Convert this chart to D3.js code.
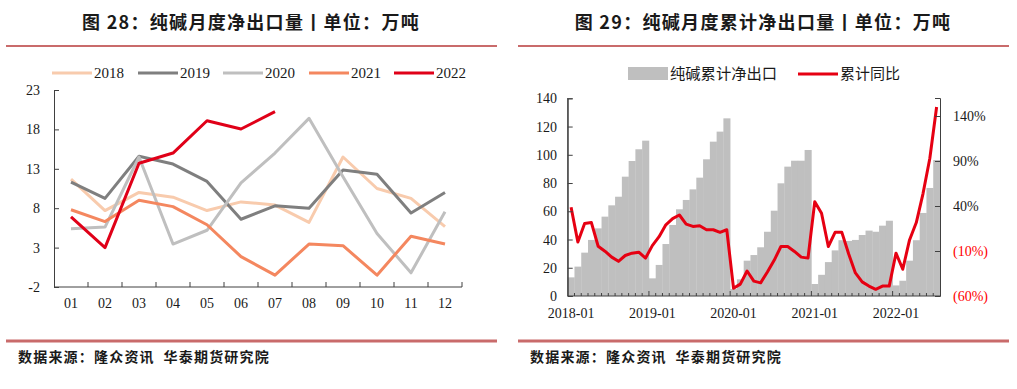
<!DOCTYPE html>
<html><head><meta charset="utf-8">
<script src="https://cdn.jsdelivr.net/npm/d3@7"></script>
<style>
html,body{margin:0;padding:0;background:#fff;}
svg{display:block;}
</style></head>
<body>
<svg id="c" width="1017" height="389"></svg>
<script>
// ---------- Left chart data ----------
const months = ["01","02","03","04","05","06","07","08","09","10","11","12"];
const years = ["2018","2019","2020","2021","2022"];
const net2018 = [11.7, 7.7, 10.0, 9.4, 7.7, 8.8, 8.4, 6.2, 14.5, 10.5, 9.25, 5.65];
const net2019 = [11.3, 9.25, 14.6, 13.6, 11.4, 6.6, 8.3, 8.0, 12.85, 12.3, 7.4, 10.0];
const net2020 = [5.4, 5.6, 14.5, 3.45, 5.2, 11.2, 15.0, 19.4, 12.0, 4.8, -0.2, 7.55];
const net2021 = [7.8, 6.3, 9.0, 8.2, 5.9, 1.85, -0.5, 3.45, 3.25, -0.5, 4.45, 3.45];
const net2022 = [6.9, 3.0, 13.7, 15.0, 19.1, 18.05, 20.25];
const leftTicks = [-2, 3, 8, 13, 18, 23];
const lineColors = ["#f8cbad", "#7f7f7f", "#bfbfbf", "#f4875f", "#e00018"];

// ---------- Right chart data ----------
const periods = [
 "2018-01","2018-02","2018-03","2018-04","2018-05","2018-06","2018-07","2018-08","2018-09","2018-10","2018-11","2018-12",
 "2019-01","2019-02","2019-03","2019-04","2019-05","2019-06","2019-07","2019-08","2019-09","2019-10","2019-11","2019-12",
 "2020-01","2020-02","2020-03","2020-04","2020-05","2020-06","2020-07","2020-08","2020-09","2020-10","2020-11","2020-12",
 "2021-01","2021-02","2021-03","2021-04","2021-05","2021-06","2021-07","2021-08","2021-09","2021-10","2021-11","2021-12",
 "2022-01","2022-02","2022-03","2022-04","2022-05","2022-06","2022-07"];
const cumNet = [
 13.2, 20.8, 30.7, 39.7, 47.9, 56.2, 64.2, 70.3, 84.5, 95.6, 103.9, 110.0,
 12.5, 22.0, 36.8, 50.3, 61.4, 68.0, 75.5, 83.8, 96.8, 109.3, 116.4, 125.8,
 5.0, 11.8, 25.0, 29.0, 34.5, 45.5, 60.4, 79.8, 91.6, 95.8, 95.8, 103.4,
 8.5, 15.0, 24.0, 32.3, 39.5, 39.0, 39.7, 43.2, 46.3, 45.5, 49.8, 53.3,
 7.5, 10.8, 25.0, 39.5, 58.8, 76.5, 96.3];
const cumYoY = [
 38.6, 0.0, 20.5, 21.6, -4.7, -10.2, -16.8, -21.5, -15.0, -12.4, -11.3, -17.9,
 -4.0, 5.9, 19.1, 26.0, 30.0, 19.9, 17.3, 18.0, 13.6, 13.6, 10.7, 13.6,
 -51.5, -46.8, -32.2, -43.5, -45.4, -33.3, -20.4, -5.0, -5.0, -10.5, -16.8, -17.9,
 44.8, 31.9, -5.0, 10.7, 10.7, -13.1, -34.4, -44.3, -49.0, -52.6, -49.0, -49.0,
 -12.4, -30.3, 2.3, 21.6, 54.1, 93.0, 150.0];
const rightLeftTicks = [0, 20, 40, 60, 80, 100, 120, 140];
const rightPctTicks = [-60, -10, 40, 90, 140];
const rightXLabels = ["2018-01","2019-01","2020-01","2021-01","2022-01"];

const titleL = "图 28：纯碱月度净出口量丨单位：万吨";
const titleR = "图 29：纯碱月度累计净出口量丨单位：万吨";
const source = "数据来源：隆众资讯  华泰期货研究院";

const svg = d3.select("#c");
const CJK = "'Noto Sans CJK SC', 'Noto Sans', sans-serif";
const SERIF = "'Liberation Serif', 'DejaVu Serif', serif";
const AX = "#404040";
const RULE = "#c96b6b";

// ---------- frames ----------
function frame(x0, x1, cx, title) {
  svg.append("text").attr("x", cx).attr("y", 29).attr("text-anchor", "middle")
    .attr("font-family", CJK).attr("font-weight", "bold").attr("font-size", 18)
    .attr("letter-spacing", 1.3).style("white-space", "pre")
    .attr("fill", "#1a1a1a").text(title);
  svg.append("line").attr("x1", x0).attr("x2", x1).attr("y1", 46).attr("y2", 46)
    .attr("stroke", RULE).attr("stroke-width", 2);
  svg.append("line").attr("x1", x0).attr("x2", x1).attr("y1", 341).attr("y2", 341)
    .attr("stroke", RULE).attr("stroke-width", 3);
  svg.append("text").attr("x", x0 + 12).attr("y", 362)
    .attr("font-family", CJK).attr("font-weight", "bold").attr("font-size", 14)
    .attr("letter-spacing", 1.2).style("white-space", "pre")
    .attr("fill", "#1a1a1a").text(source);
}
frame(6, 497, 251, titleL);
frame(518, 1009, 763, titleR);

// ---------- Left chart ----------
const xL = d3.scaleBand().domain(months).range([54, 462]);
const yL = d3.scaleLinear().domain([-2, 23]).range([287, 90]);

const gL = svg.append("g");
gL.append("g").attr("transform", "translate(54,0)")
  .call(d3.axisRight(yL).tickValues(leftTicks).tickSize(5).tickFormat(""))
  .call(g => g.selectAll("path,line").attr("stroke", AX));
gL.selectAll(".ylab").data(leftTicks).join("text")
  .attr("x", 40).attr("y", d => yL(d) + 5).attr("text-anchor", "end")
  .attr("font-family", SERIF).attr("font-size", 14).attr("fill", "#1a1a1a").text(d => d);
const bL = months.map(m => xL(m)).concat([462]);
gL.append("line").attr("x1", 54).attr("x2", 462).attr("y1", 287).attr("y2", 287).attr("stroke", AX);
gL.selectAll(".xt").data(bL.slice(1)).join("line")
  .attr("x1", d => d).attr("x2", d => d).attr("y1", 287).attr("y2", 282).attr("stroke", AX);
gL.selectAll(".xlab").data(months).join("text")
  .attr("x", d => xL(d) + xL.bandwidth() / 2).attr("y", 308).attr("text-anchor", "middle")
  .attr("font-family", SERIF).attr("font-size", 14).attr("fill", "#1a1a1a").text(d => d);

const allNet = [net2018, net2019, net2020, net2021, net2022];
const lineL = d3.line().x((d, i) => xL(months[i]) + xL.bandwidth() / 2).y(d => yL(d));
allNet.forEach((s, k) => {
  gL.append("path").attr("d", lineL(s)).attr("fill", "none")
    .attr("stroke", lineColors[k]).attr("stroke-width", 3).attr("stroke-linejoin", "round");
});
const legX = [52, 138, 223, 309, 394];
years.forEach((y, k) => {
  gL.append("line").attr("x1", legX[k]).attr("x2", legX[k] + 40).attr("y1", 73).attr("y2", 73)
    .attr("stroke", lineColors[k]).attr("stroke-width", 3);
  gL.append("text").attr("x", legX[k] + 42).attr("y", 78).attr("font-family", SERIF)
    .attr("font-size", 15).attr("fill", "#1a1a1a").text(y);
});

// ---------- Right chart ----------
const xR = d3.scaleBand().domain(periods).range([567.7, 940]);
const yR = d3.scaleLinear().domain([0, 140]).range([296, 98.3]);
const yP = d3.scaleLinear().domain([-60, 160]).range([296, 98]);
const gR = svg.append("g");

gR.selectAll(".bar").data(cumNet).join("rect")
  .attr("x", (d, i) => xR(periods[i])).attr("width", xR.bandwidth() + 0.3)
  .attr("y", d => yR(d)).attr("height", d => yR(0) - yR(d)).attr("fill", "#bfbfbf");

const lineR = d3.line().x((d, i) => xR(periods[i]) + xR.bandwidth() / 2).y(d => yP(d));
gR.append("path").attr("d", lineR(cumYoY)).attr("fill", "none")
  .attr("stroke", "#e60012").attr("stroke-width", 3).attr("stroke-linejoin", "round");

gR.append("g").attr("transform", "translate(567.7,0)")
  .call(d3.axisRight(yR).tickValues(rightLeftTicks).tickSize(5).tickFormat(""))
  .call(g => g.selectAll("path,line").attr("stroke", AX));
gR.append("line").attr("x1", 567.7).attr("x2", 567.7).attr("y1", 98).attr("y2", 296).attr("stroke", AX);
gR.selectAll(".yl").data(rightLeftTicks).join("text")
  .attr("x", 557).attr("y", d => yR(d) + 5).attr("text-anchor", "end")
  .attr("font-family", SERIF).attr("font-size", 14).attr("fill", "#1a1a1a").text(d => d);
gR.append("g").attr("transform", "translate(940,0)")
  .call(d3.axisLeft(yP).tickValues(rightPctTicks).tickSize(5).tickFormat(""))
  .call(g => g.selectAll("path,line").attr("stroke", AX));
gR.selectAll(".yp").data(rightPctTicks).join("text")
  .attr("x", 953).attr("y", d => yP(d) + 5)
  .attr("font-family", SERIF).attr("font-size", 14)
  .attr("fill", d => d < 0 ? "#ff0000" : "#1a1a1a")
  .text(d => d < 0 ? "(" + Math.abs(d) + "%)" : d + "%");
gR.append("line").attr("x1", 567.7).attr("x2", 940).attr("y1", 296).attr("y2", 296).attr("stroke", AX);
gR.selectAll(".xt").data(periods.slice(1)).join("line")
  .attr("x1", d => xR(d)).attr("x2", d => xR(d))
  .attr("y1", 296).attr("y2", d => d.endsWith("-01") ? 291 : 293).attr("stroke", AX);
gR.selectAll(".xl").data(rightXLabels).join("text")
  .attr("x", d => xR(d) + xR.bandwidth() / 2).attr("y", 318).attr("text-anchor", "middle")
  .attr("font-family", SERIF).attr("font-size", 14).attr("fill", "#1a1a1a").text(d => d);
gR.append("rect").attr("x", 628).attr("y", 67).attr("width", 40).attr("height", 13).attr("fill", "#bfbfbf");
gR.append("text").attr("x", 670).attr("y", 79).attr("font-family", CJK).attr("font-size", 15.3)
  .attr("fill", "#1a1a1a").text("纯碱累计净出口");
gR.append("line").attr("x1", 798).attr("x2", 838).attr("y1", 74).attr("y2", 74)
  .attr("stroke", "#e60012").attr("stroke-width", 3);
gR.append("text").attr("x", 840).attr("y", 79).attr("font-family", CJK).attr("font-size", 15)
  .attr("fill", "#1a1a1a").text("累计同比");
</script>
</body></html>
